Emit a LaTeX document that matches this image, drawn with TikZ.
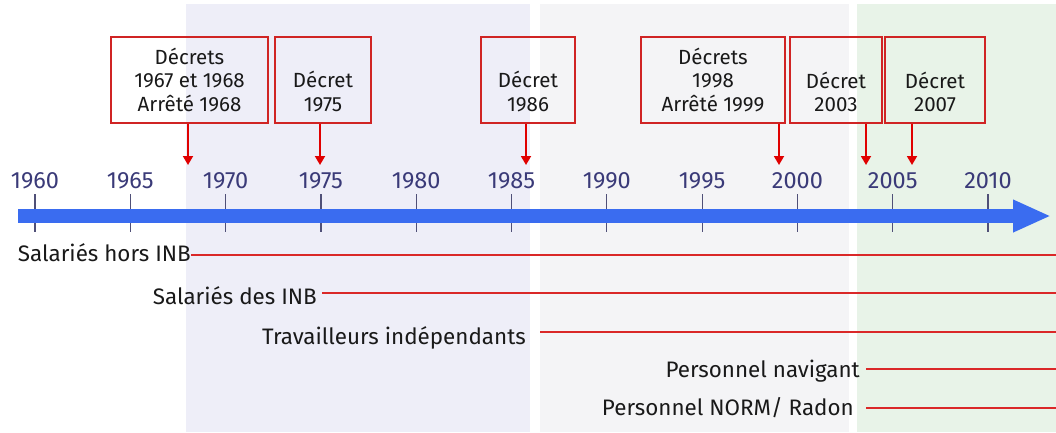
\documentclass[tikz,border=0pt]{standalone}
\usepackage{fontspec}
\setmainfont{Fira Sans}
\usetikzlibrary{arrows.meta}
\definecolor{bandA}{RGB}{238,238,248}
\definecolor{bandB}{RGB}{244,244,246}
\definecolor{bandC}{RGB}{232,243,232}
\definecolor{axisblue}{RGB}{58,108,240}
\definecolor{tickc}{RGB}{80,80,120}
\definecolor{yearc}{RGB}{58,58,120}
\definecolor{boxred}{RGB}{208,36,36}
\definecolor{arrred}{RGB}{224,0,0}
\definecolor{linered}{RGB}{218,40,40}
\definecolor{txt}{RGB}{25,25,25}
\begin{document}
\begin{tikzpicture}[x=1pt,y=-1pt,
  decbox/.style={draw=boxred, line width=1.6pt, minimum height=86pt, inner sep=0pt, align=center, font=\fontsize{20.5}{23.5}\selectfont, text=txt},
  yr/.style={text=yearc, font=\fontsize{23.5}{26}\selectfont, inner sep=0pt},
  lab/.style={text=txt, font=\fontsize{22.4}{26}\selectfont, anchor=base east, inner sep=0pt},
  decarrow/.style={draw=arrred, line width=1.8pt, -{Triangle[length=9pt,width=10pt]}},
  grpline/.style={draw=linered, line width=1.5pt},
  tickline/.style={draw=tickc, line width=1.2pt}]
\useasboundingbox (0,0) rectangle (1056,432);
% background bands
\fill[bandA] (186,4) rectangle (530,432);
\fill[bandB] (540,4) rectangle (849,432);
\fill[bandC] (857,4) rectangle (1056,432);
% ticks and years
\foreach \i in {0,...,10} {
  \pgfmathsetmacro\xx{35+\i*95.3}
  \draw[tickline] (\xx,194) -- (\xx,232);
  \node[yr] (y\i) at (\xx,181) {\the\numexpr1960+5*\i\relax};
}
% axis
\coordinate (axL) at (18,216);
\coordinate (axR) at (1051,216);
\draw[axisblue, line width=14pt, -{Triangle[length=38pt,width=30pt]}] (axL) -- (axR);
% decree boxes
\node[decbox, minimum width=157pt] (b1) at (189.5,80) {Décrets\\1967 et 1968\\Arrêté 1968};
\node[decbox, minimum width=96pt] (b2) at (323,80) {\phantom{Décrets}\\Décret\\1975};
\node[decbox, minimum width=94pt] (b3) at (528,80) {\phantom{Décrets}\\Décret\\1986};
\node[decbox, minimum width=144pt] (b4) at (713,80) {Décrets\\1998\\Arrêté 1999};
\node[decbox, minimum width=92pt] (b5) at (836,80) {\phantom{Décrets}\\Décret\\2003};
\node[decbox, minimum width=100pt] (b6) at (935,80) {\phantom{Décrets}\\Décret\\2007};
% arrow tips
\coordinate (t1) at (188,165);
\coordinate (t2) at (320,165);
\coordinate (t3) at (526,165);
\coordinate (t4) at (779,165);
\coordinate (t5) at (866,165);
\coordinate (t6) at (912,165);
\foreach \k in {1,...,6} \draw[decarrow] (b\k.south -| t\k) -- (t\k);
% groups
\coordinate (E) at (1056,0);
\node[lab] (l1) at (191,261) {Salariés hors INB};
\node[lab] (l2) at (317,304) {Salariés des INB};
\node[lab] (l3) at (526,344) {Travailleurs indépendants};
\node[lab] (l4) at (860,377) {Personnel navigant};
\node[lab] (l5) at (854,415) {Personnel NORM/ Radon};
\draw[grpline] (l1.base east |- 0,255) -- (E |- 0,255);
\draw[grpline] ([xshift=5pt]l2.base east |- 0,293) -- (E |- 0,293);
\draw[grpline] ([xshift=14pt]l3.base east |- 0,332) -- (E |- 0,332);
\draw[grpline] ([xshift=6pt]l4.base east |- 0,369) -- (E |- 0,369);
\draw[grpline] ([xshift=12pt]l5.base east |- 0,408) -- (E |- 0,408);
\end{tikzpicture}
\end{document}
